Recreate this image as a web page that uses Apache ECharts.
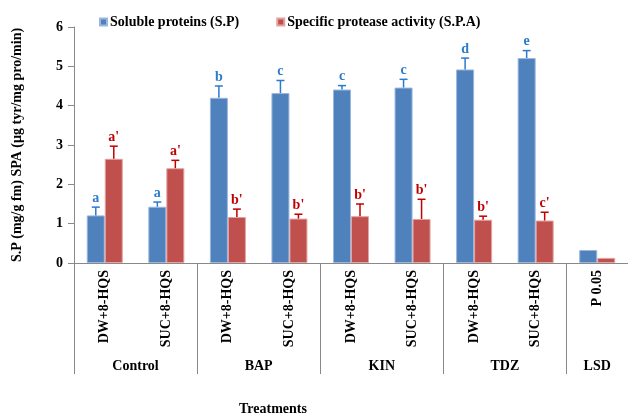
<!DOCTYPE html>
<html>
<head>
<meta charset="utf-8">
<script src="https://cdn.jsdelivr.net/npm/echarts@6/dist/echarts.min.js"></script>
<style>
  html, body { margin: 0; padding: 0; background: #fff; }
  #chart { width: 628px; height: 415px; }
</style>
</head>
<body>
<div id="chart"></div>
<script>
// data
var categories = ['DW+8-HQS', 'SUC+8-HQS', 'DW+8-HQS', 'SUC+8-HQS', 'DW+8-HQS', 'SUC+8-HQS', 'DW+8-HQS', 'SUC+8-HQS', 'P 0.05']
var groups = ['Control', 'BAP', 'KIN', 'TDZ', 'LSD']
var groupSizes = [2, 2, 2, 2, 1]
var spValues = [1.21, 1.43, 4.2, 4.32, 4.41, 4.46, 4.92, 5.21, 0.33]
var spErrors = [0.21, 0.12, 0.3, 0.32, 0.1, 0.21, 0.29, 0.19, 0]
var spLetters = ['a', 'a', 'b', 'c', 'c', 'c', 'd', 'e', '']
var spaValues = [2.65, 2.41, 1.17, 1.13, 1.19, 1.12, 1.1, 1.08, 0.13]
var spaErrors = [0.32, 0.2, 0.2, 0.11, 0.31, 0.5, 0.09, 0.21, 0]
var spaLetters = ["a'", "a'", "b'", "b'", "b'", "b'", "b'", "c'", '']
var yTicks = [0, 1, 2, 3, 4, 5, 6]

var font = '"Liberation Serif", "Times New Roman", serif'
var axisGray = '#898989'
var barW = 18

// boundaries and centers of the group level on the x axis
var groupEdges = [0]
var groupCenters = []
groupSizes.forEach(function (n, i) {
  groupCenters.push(groupEdges[i] + n / 2)
  groupEdges.push(groupEdges[i] + n)
})

function errData (vals, errs, letters) {
  return vals.map(function (v, i) { return [i, v, errs[i], letters[i]] })
}

function letters (name) {
  return name === 'spErr' ? spLetters : spaLetters
}

function errorRender (offset, color) {
  return function (params, api) {
    var i = api.value(0)
    var v = api.value(1)
    var e = api.value(2)
    var letter = letters(params.seriesName)[params.dataIndex]
    var base = api.coord([i, v])
    var top = api.coord([i, v + e])
    var x = base[0] + offset
    var children = []
    if (e > 0) {
      children.push({
        type: 'line',
        shape: { x1: x, y1: base[1], x2: x, y2: top[1] },
        style: { stroke: color, lineWidth: 1.5 }
      })
      children.push({
        type: 'line',
        shape: { x1: x - 4, y1: top[1], x2: x + 4, y2: top[1] },
        style: { stroke: color, lineWidth: 1.5 }
      })
    }
    if (letter) {
      children.push({
        type: 'text',
        style: {
          x: x,
          y: top[1] - 2,
          text: letter,
          fill: color,
          font: 'bold 14px ' + font,
          align: 'center',
          verticalAlign: 'bottom'
        }
      })
    }
    return { type: 'group', children: children }
  }
}

var chart = echarts.init(document.getElementById('chart'))
chart.setOption({
  animation: false,
  textStyle: { fontFamily: font },
  legend: {
    data: ['Soluble proteins (S.P)', 'Specific protease activity (S.P.A)'],
    left: 99,
    top: 15,
    padding: 0,
    icon: 'rect',
    itemWidth: 7,
    itemHeight: 7,
    itemGap: 37,
    textStyle: { fontFamily: font, fontWeight: 'bold', fontSize: 14, color: '#000', padding: [0, 0, 0, -2] }
  },
  grid: { left: 74, top: 27, width: 557, height: 236 },
  xAxis: [
    {
      type: 'category',
      data: categories,
      axisLine: { lineStyle: { color: axisGray, width: 1 } },
      axisTick: { interval: 0, length: 86, lineStyle: { color: axisGray } },
      axisLabel: {
        interval: 0,
        rotate: 90,
        margin: 7,
        fontFamily: font,
        fontWeight: 'bold',
        fontSize: 14,
        color: '#000'
      }
    },
    {
      type: 'value',
      position: 'bottom',
      min: 0,
      max: 9,
      axisLine: { show: false },
      splitLine: { show: false },
      axisTick: {
        show: true,
        customValues: groupEdges.slice(0, -1),
        length: 111,
        lineStyle: { color: axisGray }
      },
      axisLabel: {
        customValues: groupCenters,
        margin: 96,
        fontFamily: font,
        fontWeight: 'bold',
        fontSize: 14,
        color: '#000',
        formatter: function (v) {
          return groups[groupCenters.indexOf(v)]
        }
      }
    }
  ],
  yAxis: {
    type: 'value',
    min: 0,
    max: 6,
    interval: 1,
    name: 'S.P (mg/g fm) SPA (µg tyr/mg pro/min)',
    nameLocation: 'middle',
    nameGap: 50,
    nameTextStyle: { fontFamily: font, fontWeight: 'bold', fontSize: 14, color: '#000' },
    axisLine: { show: true, lineStyle: { color: axisGray } },
    axisTick: { show: true, length: 6, lineStyle: { color: axisGray } },
    splitLine: { show: false },
    axisLabel: {
      margin: 11,
      fontFamily: font,
      fontWeight: 'bold',
      fontSize: 14,
      color: '#000',
      formatter: function (v) { return yTicks.indexOf(v) >= 0 ? String(v) : '' }
    }
  },
  graphic: [{
    type: 'text',
    left: 239,
    top: 402,
    style: { text: 'Treatments', font: 'bold 14px ' + font, fill: '#000' }
  }],
  series: [
    {
      name: 'Soluble proteins (S.P)',
      type: 'bar',
      data: spValues,
      barWidth: barW,
      barGap: '0%',
      itemStyle: { color: '#4f81bd', borderColor: '#9ab7dc', borderWidth: 1 }
    },
    {
      name: 'Specific protease activity (S.P.A)',
      type: 'bar',
      data: spaValues,
      barWidth: barW,
      barGap: '0%',
      itemStyle: { color: '#c0504d', borderColor: '#e3a3a1', borderWidth: 1 }
    },
    {
      name: 'spErr',
      type: 'custom',
      data: errData(spValues, spErrors, spLetters),
      renderItem: errorRender(-barW / 2, '#2a7bcb'),
      z: 5
    },
    {
      name: 'spaErr',
      type: 'custom',
      data: errData(spaValues, spaErrors, spaLetters),
      renderItem: errorRender(barW / 2, '#c00000'),
      z: 5
    }
  ]
})
</script>
</body>
</html>
